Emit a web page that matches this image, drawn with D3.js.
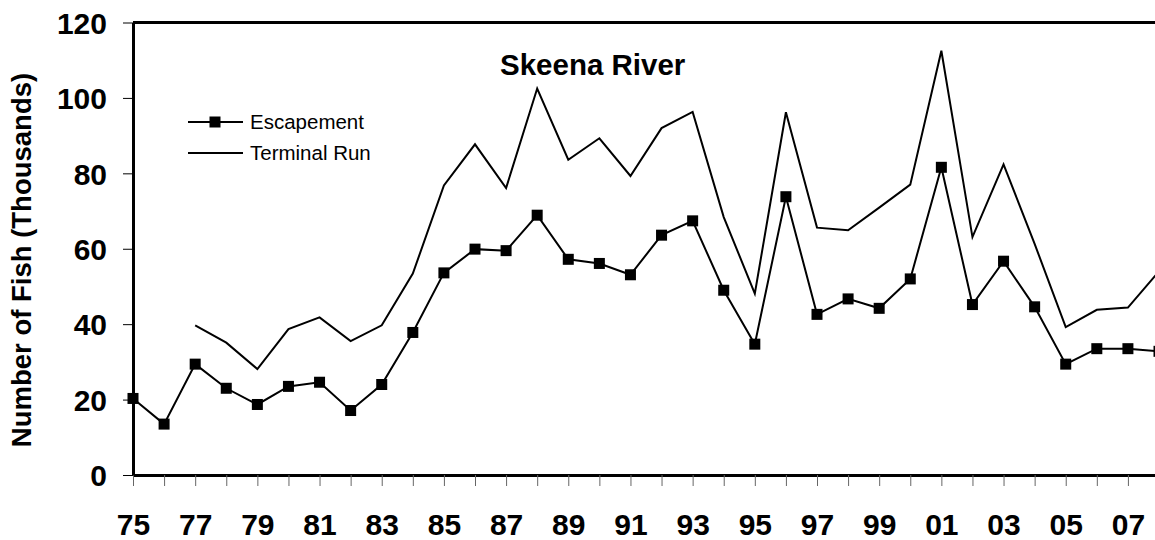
<!DOCTYPE html>
<html>
  <head>
    <script src="https://d3js.org/d3.v7.min.js"></script>
    <meta charset="utf-8">
    <style>
    body {
      margin: 0;
      background: #fff;
      overflow: hidden;
    }

    svg text {
      font-family: "Liberation Sans", Arial, sans-serif;
      fill: #000;
    }

    .axis text {
      font-size: 30px;
      font-weight: bold;
    }
  </style>
  </head>
  <body>
    <div id="chart"></div>
    <script>
    // data (thousands of fish)
    var years = d3.range(1975, 2009);
    var escapement = [20.3, 13.5, 29.4, 23.0, 18.7, 23.5, 24.6, 17.1, 24.0, 37.8,
      53.6, 59.9, 59.5, 68.9, 57.2, 56.1, 53.1, 63.6, 67.4, 49.0,
      34.7, 73.8, 42.6, 46.7, 44.2, 52.0, 81.6, 45.2, 56.7, 44.6,
      29.4, 33.5, 33.5, 32.8];
    // terminal run starts in 1977
    var terminalYears = d3.range(1977, 2009);
    var terminalRun = [39.7, 35.1, 28.1, 38.7, 41.8, 35.5, 39.7, 53.4,
      76.8, 87.7, 76.1, 102.5, 83.6, 89.3, 79.3, 92.0, 96.3, 68.4,
      48.1, 96.2, 65.6, 64.9, 70.9, 77.0, 112.5, 63.1, 82.4, 61.3,
      39.2, 43.8, 44.4, 54.0];
    var yTicks = [0, 20, 40, 60, 80, 100, 120];
    var seriesNames = ['Escapement', 'Terminal Run'];
    var title = 'Skeena River';
    var yTitle = 'Number of Fish (Thousands)';

    var width = 1155, height = 540;
    var svg = d3.select('#chart').append('svg')
      .attr('width', width)
      .attr('height', height);

    var x = d3.scaleLinear().domain([1975, 2008]).range([133, 1159]);
    var y = d3.scaleLinear().domain([0, 120]).range([475, 22.5]);

    // top and right border of plot area
    svg.append('line')
      .attr('x1', x(1975)).attr('x2', x(2008))
      .attr('y1', y(120)).attr('y2', y(120))
      .attr('stroke', '#000').attr('stroke-width', 3);
    svg.append('line')
      .attr('x1', x(2008)).attr('x2', x(2008))
      .attr('y1', y(120)).attr('y2', y(0))
      .attr('stroke', '#000').attr('stroke-width', 3);

    // x axis
    var xAxis = svg.append('g')
      .attr('class', 'axis')
      .attr('transform', 'translate(0,' + y(0) + ')')
      .call(d3.axisBottom(x)
        .tickValues(years)
        .tickSize(11)
        .tickSizeOuter(0)
        .tickFormat(function (d) {
          return (d - 1975) % 2 === 0 ? d3.format('02d')(d % 100) : '';
        }));
    xAxis.select('.domain').attr('stroke', '#000').attr('stroke-width', 3);
    xAxis.selectAll('.tick line').attr('stroke', '#666').attr('stroke-width', 1);
    xAxis.selectAll('.tick text').attr('y', 60).attr('dy', 0);

    // y axis
    var yAxis = svg.append('g')
      .attr('class', 'axis')
      .attr('transform', 'translate(' + x(1975) + ',0)')
      .call(d3.axisLeft(y)
        .tickValues(yTicks)
        .tickSize(10)
        .tickSizeOuter(0));
    yAxis.select('.domain').attr('stroke', '#000').attr('stroke-width', 3);
    yAxis.selectAll('.tick line').attr('stroke', '#000').attr('stroke-width', 1);
    yAxis.selectAll('.tick text').attr('x', -26).attr('dy', '0.36em');

    // terminal run line
    var line = d3.line()
      .x(function (d) { return x(d[0]); })
      .y(function (d) { return y(d[1]); });

    svg.append('path')
      .datum(d3.zip(terminalYears, terminalRun))
      .attr('fill', 'none')
      .attr('stroke', '#000')
      .attr('stroke-width', 2)
      .attr('d', line);

    // escapement line with square markers
    var escData = d3.zip(years, escapement);
    svg.append('path')
      .datum(escData)
      .attr('fill', 'none')
      .attr('stroke', '#000')
      .attr('stroke-width', 2)
      .attr('d', line);

    var sq = 11;
    svg.selectAll('.marker')
      .data(escData)
      .enter().append('rect')
      .attr('class', 'marker')
      .attr('x', function (d) { return x(d[0]) - sq / 2; })
      .attr('y', function (d) { return y(d[1]) - sq / 2; })
      .attr('width', sq)
      .attr('height', sq)
      .attr('fill', '#000');

    // title
    svg.append('text')
      .attr('x', 500)
      .attr('y', 75)
      .style('font-size', '29.5px')
      .style('font-weight', 'bold')
      .text(title);

    // y axis title
    svg.append('text')
      .attr('transform', 'translate(31,260) rotate(-90)')
      .attr('text-anchor', 'middle')
      .style('font-size', '27.5px')
      .style('font-weight', 'bold')
      .text(yTitle);

    // legend
    var legend = svg.append('g');
    var legendY = [122, 153];
    seriesNames.forEach(function (name, i) {
      legend.append('line')
        .attr('x1', 188).attr('x2', 243)
        .attr('y1', legendY[i]).attr('y2', legendY[i])
        .attr('stroke', '#000').attr('stroke-width', 2);
      if (i === 0) {
        legend.append('rect')
          .attr('x', 215 - sq / 2).attr('y', legendY[i] - sq / 2)
          .attr('width', sq).attr('height', sq)
          .attr('fill', '#000');
      }
      legend.append('text')
        .attr('x', 250)
        .attr('y', legendY[i] + 7)
        .style('font-size', '20.5px')
        .text(name);
    });
  </script>
  </body>
</html>
